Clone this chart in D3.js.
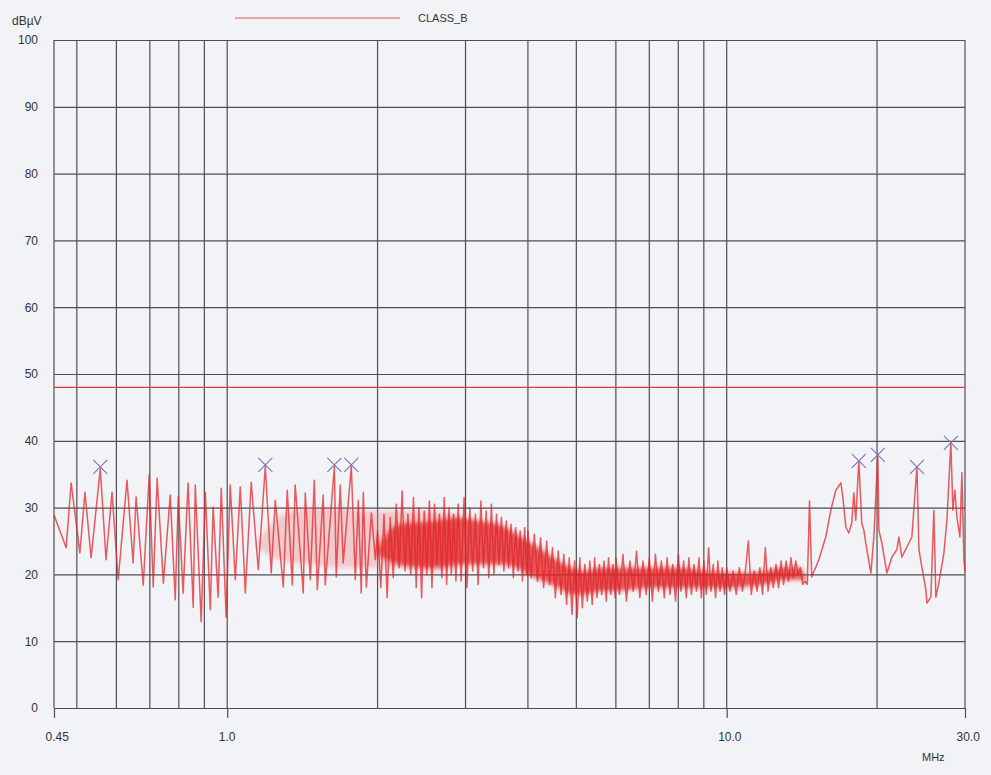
<!DOCTYPE html>
<html>
<head>
<meta charset="utf-8">
<script src="https://cdn.jsdelivr.net/npm/d3@7"></script>
<style>
body { margin: 0; background: #f1f3f7; }
svg { display: block; font-family: "Liberation Sans", Arial, sans-serif; }
</style>
</head>
<body>
<div id="vis"></div>
<script>

const yTicks = [0, 10, 20, 30, 40, 50, 60, 70, 80, 90, 100]
const xGrid = [0.5, 0.6, 0.7, 0.8, 0.9, 1, 2, 3, 4, 5, 6, 7, 8, 9, 10, 20]
const xLabels = [0.45, 1, 10, 30]

const limitF = [0.45, 30]
const limitV = [48, 48]

// 0.45 - 2 MHz
const lowF = [0.45, 0.476, 0.487, 0.507, 0.519, 0.534, 0.557, 0.572, 0.588, 0.605,
    0.630, 0.648, 0.657, 0.679, 0.698, 0.711, 0.724, 0.745, 0.769, 0.787,
    0.798, 0.816, 0.835, 0.855, 0.863, 0.887, 0.904, 0.925, 0.937, 0.959,
    0.973, 0.995, 1.014, 1.038, 1.062, 1.087, 1.117, 1.154, 1.192, 1.225,
    1.248, 1.295, 1.319, 1.350, 1.368, 1.420, 1.433, 1.467, 1.494, 1.515,
    1.557, 1.571, 1.639, 1.653, 1.684, 1.707, 1.772, 1.805, 1.830, 1.855,
    1.873, 1.899, 1.944, 1.980]
const lowV = [28.9, 24.0, 33.7, 23.2, 32.3, 22.5, 35.8, 22.2, 32.3, 19.2,
    34.1, 21.7, 31.6, 18.4, 34.9, 18.1, 34.4, 18.7, 31.9, 16.2,
    31.6, 17.2, 33.7, 15.1, 33.4, 12.9, 32.3, 14.7, 30.1, 16.6,
    32.9, 13.6, 33.4, 19.2, 33.1, 17.2, 33.8, 20.7, 36.2, 20.2,
    31.1, 18.1, 32.6, 18.4, 33.4, 17.2, 32.2, 19.2, 34.1, 17.7,
    31.9, 18.4, 36.2, 19.6, 33.4, 21.7, 36.2, 19.2, 31.1, 17.2,
    32.3, 18.1, 29.2, 22.2]

// 2 - 14.7 MHz, noise band
const midF = [2.00, 2.03, 2.06, 2.09, 2.12, 2.15, 2.18, 2.21, 2.24, 2.27,
    2.30, 2.33, 2.36, 2.39, 2.42, 2.45, 2.48, 2.51, 2.54, 2.57,
    2.60, 2.63, 2.66, 2.69, 2.72, 2.75, 2.78, 2.81, 2.84, 2.87,
    2.90, 2.94, 2.98, 3.02, 3.06, 3.10, 3.14, 3.18, 3.22, 3.26,
    3.30, 3.34, 3.38, 3.42, 3.46, 3.50, 3.54, 3.58, 3.62, 3.66,
    3.70, 3.74, 3.78, 3.82, 3.86, 3.90, 3.94, 3.98,
    4.00, 4.06, 4.12, 4.18, 4.24, 4.30, 4.36, 4.42, 4.48, 4.54,
    4.60, 4.66, 4.72, 4.78, 4.84, 4.90, 4.96, 5.02, 5.08, 5.14,
    5.20, 5.26, 5.32, 5.38, 5.44, 5.50, 5.56, 5.62, 5.68, 5.74,
    5.80, 5.86, 5.92, 5.98,
    6.0, 6.1, 6.2, 6.3, 6.4, 6.5, 6.6, 6.7, 6.8, 6.9,
    7.0, 7.1, 7.2, 7.3, 7.4, 7.5, 7.6, 7.7, 7.8, 7.9,
    8.0, 8.1, 8.2, 8.3, 8.4, 8.5, 8.6, 8.7, 8.8, 8.9,
    9.0, 9.1, 9.2, 9.3, 9.4, 9.5, 9.6, 9.7, 9.8, 9.9,
    10.00, 10.15, 10.30, 10.45, 10.60, 10.75, 10.90, 11.05, 11.20, 11.35,
    11.50, 11.65, 11.80, 11.95, 12.10, 12.25, 12.40, 12.55, 12.70, 12.85,
    13.00, 13.15, 13.30, 13.45, 13.60, 13.75, 13.90, 14.05, 14.20, 14.35,
    14.50, 14.65]
const midV = [26.6, 18.0, 29.0, 16.5, 28.5, 19.5, 30.5, 21.0, 32.5, 20.5,
    29.0, 20.0, 31.5, 18.0, 30.0, 16.5, 29.5, 20.0, 31.0, 18.0,
    30.5, 21.5, 29.0, 19.5, 31.5, 18.5, 30.0, 20.0, 29.0, 19.0,
    30.5, 19.0, 31.5, 18.0, 30.0, 20.5, 29.0, 18.5, 31.0, 21.0,
    29.5, 19.5, 30.5, 20.0, 29.0, 21.5, 28.5, 20.5, 28.0, 21.0,
    27.5, 19.5, 27.0, 20.5, 26.5, 19.0, 27.0, 20.0,
    26.5, 19.5, 26.0, 19.0, 25.5, 18.0, 25.0, 18.5, 24.0, 16.5,
    23.5, 17.0, 23.0, 15.5, 22.5, 14.0, 22.0, 13.5, 22.5, 15.0,
    21.5, 16.0, 22.0, 15.5, 22.5, 16.5, 21.5, 17.0, 22.0, 16.0,
    22.5, 17.0, 21.5, 16.5,
    22.5, 17.0, 23.0, 16.0, 22.0, 17.5, 23.5, 16.5, 22.0, 17.0,
    22.5, 16.0, 23.0, 17.5, 22.0, 16.5, 22.5, 17.0, 21.5, 16.0,
    23.0, 17.5, 22.0, 16.5, 22.5, 17.0, 21.5, 17.5, 22.5, 16.5,
    22.0, 17.0, 24.0, 17.5, 21.5, 16.5, 22.0, 17.5, 21.0, 17.0,
    21.0, 17.5, 20.5, 17.0, 21.0, 17.5, 20.5, 25.0, 17.0, 20.5,
    17.5, 21.0, 17.0, 24.0, 17.5, 21.0, 18.0, 21.5, 18.0, 22.0,
    18.5, 22.0, 19.0, 22.5, 19.5, 22.0, 20.0, 21.0, 18.5, 19.0,
    18.5, 31.0]

// 14.8 - 30 MHz
const highF = [14.80, 15.29, 15.79, 16.16, 16.54, 16.93, 17.08, 17.32, 17.56, 17.80,
    17.97, 18.13, 18.39, 18.64, 18.82, 19.08, 19.44, 19.71, 20.07, 20.17,
    20.45, 20.93, 21.42, 21.91, 22.12, 22.42, 22.95, 23.48, 24.04, 24.26,
    24.59, 25.05, 25.17, 25.63, 25.99, 26.23, 26.59, 27.22, 27.60, 28.11,
    28.37, 28.63, 28.90, 29.30, 29.57, 29.85, 30.0]
const highV = [19.6, 22.2, 25.6, 29.6, 32.6, 33.7, 31.6, 27.1, 26.2, 27.7,
    32.2, 28.1, 37.0, 27.7, 26.6, 23.7, 20.2, 25.6, 37.9, 26.6,
    24.7, 20.2, 22.6, 23.7, 25.6, 22.6, 24.1, 25.6, 36.1, 23.7,
    21.1, 17.7, 15.7, 16.6, 29.6, 16.6, 18.7, 23.2, 28.1, 39.7,
    29.6, 32.6, 28.6, 25.6, 35.2, 22.2, 20.5]

// where the sweep lines crowd together (light and dense parts)
const bandF = [1.15, 1.3, 1.5, 1.7, 1.9, 2.2, 2.6, 2.9]
const bandHi = [25, 29, 30, 30, 29.5, 29.5, 29.5, 29]
const bandLo = [24, 22, 21.5, 21, 21, 21, 20.5, 21]

const coreF = [2.0, 2.2, 2.6, 2.9, 3.2, 3.5, 3.8, 4.0, 4.3, 4.6, 4.9, 5.2, 5.6,
    6.0, 7.0, 8.0, 9.0, 10.0, 11.0, 12.0, 13.0, 14.0, 14.4]
const coreHi = [24, 27.5, 28, 28.5, 28, 27.5, 26, 25, 23.5, 22, 21, 20.5, 21,
    21, 21, 21, 20.5, 20.2, 20.2, 20.5, 21, 21, 19.5]
const coreLo = [23, 21.5, 21, 21.5, 21.5, 21.5, 21, 20, 19, 18, 17, 17, 17.5,
    17.5, 18, 18, 18, 18, 18.2, 18.6, 19.2, 19.2, 19]

const peakF = [0.557, 1.192, 1.639, 1.772, 18.39, 20.07, 24.04, 28.11]
const peakV = [36.1, 36.4, 36.4, 36.4, 37.0, 37.9, 36.1, 39.7]


let width = 991, height = 775
let x = d3.scaleLog().domain([0.45, 30]).range([54, 965])
let y = d3.scaleLinear().domain([0, 100]).range([708, 40])

let svg = d3.select("#vis")
    .append("svg")
    .attr("width", width)
    .attr("height", height)

svg.append("defs")
    .append("filter")
    .attr("id", "soft")
    .attr("x", "-10%").attr("y", "-50%")
    .attr("width", "120%").attr("height", "200%")
    .append("feGaussianBlur")
    .attr("stdDeviation", 2.2)

svg.append("rect")
    .attr("width", width)
    .attr("height", height)
    .attr("fill", "#f1f3f7")

let gridColor = "#4d4f55"

// horizontal grid + y labels
let yAxis = svg.append("g")
    .attr("transform", `translate(${x(0.45)},0)`)
    .call(d3.axisLeft(y).tickValues(yTicks).tickSize(-(x(30) - x(0.45))).tickPadding(16))
yAxis.select(".domain").remove()
yAxis.selectAll("line").attr("stroke", gridColor).attr("stroke-width", 1.2)
yAxis.selectAll("text").attr("font-size", 12).attr("fill", "#333")

// vertical grid
svg.append("g")
    .selectAll("line")
    .data(xGrid.concat([0.45, 30]))
    .join("line")
    .attr("x1", d => x(d))
    .attr("x2", d => x(d))
    .attr("y1", y(100))
    .attr("y2", y(0))
    .attr("stroke", gridColor)
    .attr("stroke-width", 1.2)

// x ticks + labels
let xAxis = svg.append("g")
    .attr("transform", `translate(0,${y(0)})`)
    .call(d3.axisBottom(x).tickValues(xLabels).tickSize(10).tickPadding(14)
        .tickFormat(d => d == 0.45 ? "0.45" : d.toFixed(1)))
xAxis.select(".domain").remove()
xAxis.selectAll("line").attr("stroke", gridColor).attr("stroke-width", 1.2)
xAxis.selectAll("text")
    .attr("font-size", 12)
    .attr("fill", "#333")
    .attr("text-anchor", "start")
    .attr("x", -9)

svg.append("text")
    .attr("x", 922)
    .attr("y", 761)
    .attr("font-size", 11)
    .attr("fill", "#333")
    .text("MHz")

svg.append("text")
    .attr("x", 12)
    .attr("y", 25)
    .attr("font-size", 12)
    .attr("fill", "#333")
    .text("dBµV")

// legend
svg.append("line")
    .attr("x1", 235).attr("x2", 400)
    .attr("y1", 18).attr("y2", 18)
    .attr("stroke", "#e05560")
    .attr("stroke-width", 1.2)
svg.append("text")
    .attr("x", 418)
    .attr("y", 22)
    .attr("font-size", 11)
    .attr("fill", "#333")
    .text("CLASS_B")

let line = d3.line()
    .x(d => x(d[0]))
    .y(d => y(d[1]))

let area = d3.area()
    .x(d => x(d[0]))
    .y0(d => y(d[2]))
    .y1(d => y(d[1]))
    .curve(d3.curveMonotoneX)

// limit line
svg.append("path")
    .datum(d3.zip(limitF, limitV))
    .attr("d", line)
    .attr("fill", "none")
    .attr("stroke", "#e03a40")
    .attr("stroke-width", 1.3)

svg.append("path")
    .datum(d3.zip(bandF, bandHi, bandLo))
    .attr("d", area)
    .attr("fill", "#f07c7c")
    .attr("fill-opacity", 0.35)
    .attr("filter", "url(#soft)")

svg.append("path")
    .datum(d3.zip(coreF, coreHi, coreLo))
    .attr("d", area)
    .attr("fill", "#e02424")
    .attr("fill-opacity", 0.75)
    .attr("filter", "url(#soft)")

// measured trace
let trace = d3.zip(lowF.concat(midF, highF), lowV.concat(midV, highV))
svg.append("path")
    .datum(trace)
    .attr("d", line)
    .attr("fill", "none")
    .attr("stroke", "#e2262b")
    .attr("stroke-opacity", 0.75)
    .attr("stroke-width", 1.5)
    .attr("stroke-linejoin", "round")

// peak markers
svg.append("g")
    .selectAll("path")
    .data(d3.zip(peakF, peakV))
    .join("path")
    .attr("transform", d => `translate(${x(d[0])},${y(d[1])})`)
    .attr("d", "M-7,-7L7,7M-7,7L7,-7")
    .attr("stroke", "#7f78b8")
    .attr("stroke-width", 1.2)
    .attr("fill", "none")

</script>
</body>
</html>
